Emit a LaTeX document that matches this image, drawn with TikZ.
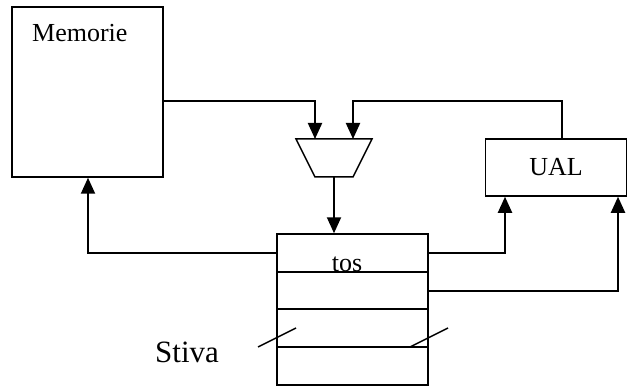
\documentclass[tikz,border=0pt]{standalone}
\usepackage{fontspec}
\setmainfont{Liberation Serif}
\usetikzlibrary{arrows.meta}
\begin{document}
\begin{tikzpicture}[x=1pt,y=-1pt,
  box/.style={draw,line width=1.5pt,inner sep=0pt},
  conn/.style={line width=2pt},
  arr/.style={line width=2pt,-{Triangle[length=16pt,width=14pt]}},
  lbl/.style={inner sep=0pt,font=\fontsize{26}{30}\selectfont},
  slash/.style={line width=1.5pt}]
\useasboundingbox (0,0) rectangle (628,387);
% boxes
\node[box,minimum width=151pt,minimum height=170pt] (mem) at (87.5,92) {};
\node[lbl,anchor=base west] (memt) at (32,41.5) {Memorie};
\node[box,minimum width=141pt,minimum height=57pt,font=\fontsize{26}{30}\selectfont] (ual) at (556,167.5) {UAL};
\node[box,minimum width=151pt,minimum height=151pt] (st) at (352.5,309.5) {};
\draw[line width=1.5pt] (st.west |- 0,272) -- (st.east |- 0,272)
  (st.west |- 0,309) -- (st.east |- 0,309)
  (st.west |- 0,347) -- (st.east |- 0,347);
\node[lbl,anchor=base] (tos) at (347,271) {tos};
% mux
\coordinate (mux) at (334,158);
\coordinate (muxA) at (315,139);
\coordinate (muxB) at (353,139);
\coordinate (muxO) at (334,177);
\draw[line width=1.5pt,line join=miter] (296,139) -- (372,139) -- (353,177) -- (315,177) -- cycle;
% connectors
\draw[arr] (mem.east |- 0,101) -| (muxA);
\draw[arr] (ual.north -| 562,0) |- (353,101) -- (muxB);
\draw[arr] (muxO) -- (st.north -| muxO);
\draw[arr] (st.west |- 0,253) -| (mem.south -| 88,0);
\draw[arr] (st.east |- 0,253) -| (ual.south -| 505,0);
\draw[arr] (st.east |- 0,291) -| (ual.south -| 618,0);
% slashes
\draw[slash] (258,347) -- (296,328);
\draw[slash] (410,347) -- (448,328);
\node[inner sep=0pt,anchor=base west,font=\fontsize{31}{36}\selectfont] (stiva) at (155,362) {Stiva};
\end{tikzpicture}
\end{document}
